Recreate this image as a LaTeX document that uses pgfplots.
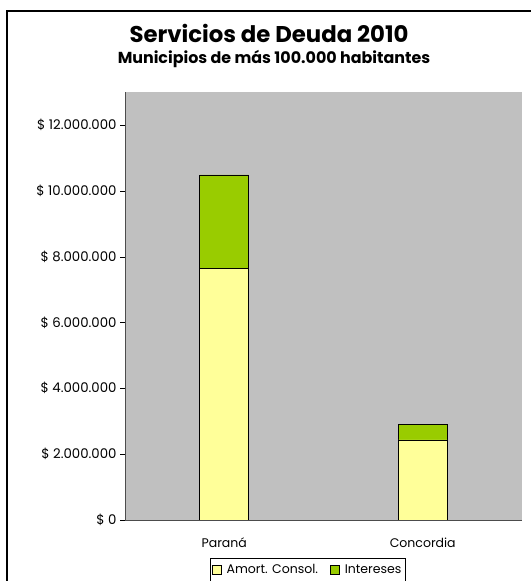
\documentclass[border=0pt]{standalone}
\usepackage{pgfplots}
\pgfplotsset{compat=1.18}
\usepackage{fontspec}
\setmainfont{Poppins}
\definecolor{amort}{HTML}{FFFF99}
\definecolor{inter}{HTML}{99CC00}
\definecolor{plotbg}{HTML}{C0C0C0}
\begin{document}
\begin{tikzpicture}[x=1bp,y=1bp]
\useasboundingbox (0,0) rectangle (531,581);
\draw[line width=1.2bp] (7,-20) rectangle (545,570);
\node[font=\fontsize{22.8bp}{26bp}\selectfont\bfseries] at (269,548) {Servicios de Deuda 2010};
\node[font=\fontsize{15.9bp}{18bp}\selectfont\bfseries] at (274,522) {Municipios de más 100.000 habitantes};
\begin{axis}[
  at={(125bp,61bp)}, anchor=south west,
  scale only axis, width=397bp, height=428bp,
  ybar stacked, bar width=49bp,
  xmin=-0.5, xmax=1.5, ymin=0, ymax=13000000,
  axis background/.style={fill=plotbg},
  axis x line*=bottom, axis y line*=left,
  axis line style={draw=black!70, line width=0.8bp, -},
  xtick={0,1}, xticklabels={Paraná,Concordia},
  extra x ticks={-0.5,0.5,1.5}, extra x tick labels={},
  extra x tick style={major tick length=5bp, tick style={draw=black}},
  x tick style={draw=none},
  xticklabel style={font=\fontsize{12.5bp}{14bp}\selectfont, yshift=-9bp},
  ytick={0,2000000,4000000,6000000,8000000,10000000,12000000},
  yticklabels={\$ 0,\$ 2.000.000,\$ 4.000.000,\$ 6.000.000,\$ 8.000.000,\$ 10.000.000,\$ 12.000.000},
  yticklabel style={font=\fontsize{13.3bp}{15bp}\selectfont},
  y tick style={draw=black},
  tick align=outside, major tick length=5bp,
  scaled y ticks=false,
  legend style={at={(0.46,-0.089)}, anchor=north, legend columns=2, draw=black,
    font=\fontsize{12.5bp}{14bp}\selectfont, inner xsep=2bp, inner ysep=4bp,
    /tikz/every even column/.append style={column sep=10bp}},
  legend image code/.code={\draw[#1, draw=black] (0bp,-4.5bp) rectangle (9bp,4.5bp); \path (12bp,0bp);},
]
\addplot[fill=amort, draw=black, line width=0.8bp] coordinates {(0,7650000) (1,2430000)};
\addplot[fill=inter, draw=black, line width=0.8bp] coordinates {(0,2830000) (1,460000)};
\legend{Amort. Consol.,Intereses}
\end{axis}
\end{tikzpicture}
\end{document}
